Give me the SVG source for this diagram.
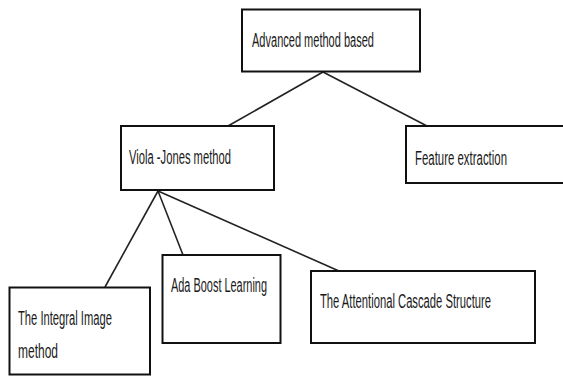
<svg xmlns="http://www.w3.org/2000/svg" width="563" height="376" viewBox="0 0 563 376">
<style>
.box{fill:#fff;stroke:#111;stroke-width:2}
.lbl{font-family:"Liberation Sans",Arial,sans-serif;font-size:20px;fill:#1a1a1a}
.conn line{stroke:#222;stroke-width:1.6}
</style>
<rect width="563" height="376" fill="#fff"/>
<g class="conn">
<line x1="323" y1="72" x2="228" y2="126"/>
<line x1="323" y1="72" x2="427" y2="126"/>
<line x1="158" y1="191" x2="105" y2="287"/>
<line x1="158" y1="191" x2="183" y2="255"/>
<line x1="158" y1="191" x2="339" y2="271"/>
</g>
<g id="n-advanced">
<rect class="box" x="242" y="9.5" width="178" height="62"/>
<text class="lbl" x="252" y="47" textLength="122" lengthAdjust="spacingAndGlyphs">Advanced method based</text>
</g>
<g id="n-viola">
<rect class="box" x="121" y="126" width="153" height="64"/>
<text class="lbl" x="129" y="164" textLength="102" lengthAdjust="spacingAndGlyphs">Viola -Jones method</text>
</g>
<g id="n-feature">
<rect class="box" x="406" y="126" width="170" height="57"/>
<text class="lbl" x="415" y="165" textLength="92" lengthAdjust="spacingAndGlyphs">Feature extraction</text>
</g>
<g id="n-integral">
<rect class="box" x="9.5" y="287.5" width="140.5" height="87"/>
<text class="lbl" x="18" y="325" textLength="94" lengthAdjust="spacingAndGlyphs">The Integral Image</text>
<text class="lbl" x="18" y="358" textLength="40" lengthAdjust="spacingAndGlyphs">method</text>
</g>
<g id="n-ada">
<rect class="box" x="162.5" y="255" width="118" height="88"/>
<text class="lbl" x="171" y="292" textLength="96" lengthAdjust="spacingAndGlyphs">Ada Boost Learning</text>
</g>
<g id="n-attentional">
<rect class="box" x="311" y="271" width="224" height="72"/>
<text class="lbl" x="320" y="308" textLength="171" lengthAdjust="spacingAndGlyphs">The Attentional Cascade Structure</text>
</g>
</svg>
